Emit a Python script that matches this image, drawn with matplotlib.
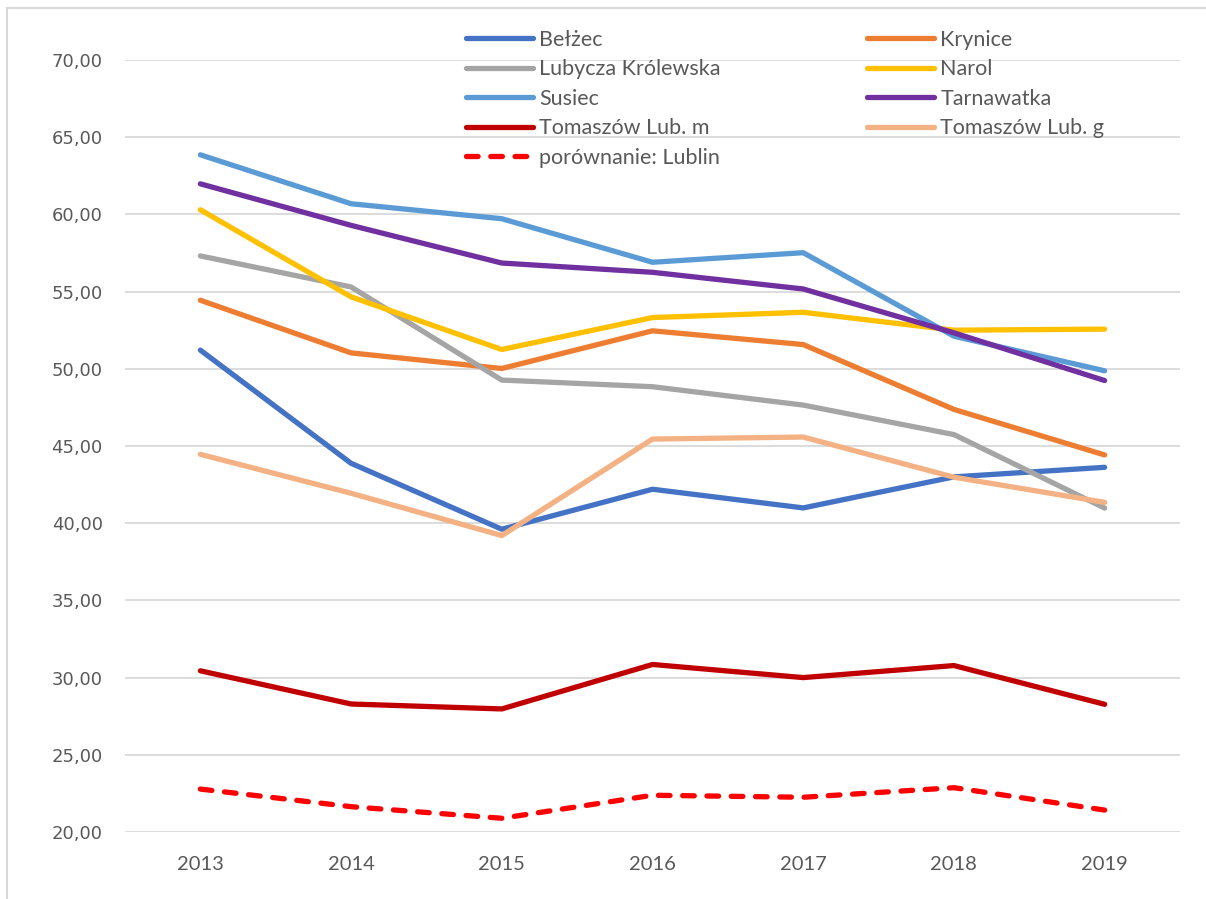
import matplotlib.pyplot as plt
from matplotlib.lines import Line2D
import numpy as np

# data
years = ['2013', '2014', '2015', '2016', '2017', '2018', '2019']

belzec = [51.21, 43.88, 39.61, 42.20, 40.99, 43.00, 43.62]
krynice = [54.44, 51.03, 50.02, 52.46, 51.57, 47.37, 44.42]
lubycza = [57.31, 55.30, 49.27, 48.84, 47.65, 45.74, 40.98]
narol = [60.30, 54.66, 51.25, 53.32, 53.66, 52.50, 52.57]
susiec = [63.86, 60.69, 59.72, 56.90, 57.52, 52.11, 49.87]
tarnawatka = [61.98, 59.29, 56.85, 56.25, 55.17, 52.33, 49.24]
tomaszow_m = [30.44, 28.29, 27.97, 30.85, 30.00, 30.78, 28.27]
tomaszow_g = [44.46, 41.94, 39.20, 45.45, 45.58, 42.98, 41.35]
lublin = [22.78, 21.64, 20.89, 22.38, 22.25, 22.87, 21.42]

series = [
    ('Bełżec', belzec, '#4472C4'),
    ('Krynice', krynice, '#ED7D31'),
    ('Lubycza Królewska', lubycza, '#A5A5A5'),
    ('Narol', narol, '#FFC000'),
    ('Susiec', susiec, '#5B9BD5'),
    ('Tarnawatka', tarnawatka, '#7030A0'),
    ('Tomaszów Lub. m', tomaszow_m, '#C00000'),
    ('Tomaszów Lub. g', tomaszow_g, '#F4B183'),
]

narrow = ['Lato', 'DejaVu Sans']
txt_color = '#595959'
lw = 3.8

fig = plt.figure(figsize=(12.06, 8.99), dpi=100)
ax = fig.add_axes([125 / 1206, 1 - 832 / 899, 1055 / 1206, 772 / 899])

x = np.arange(len(years))
handles = {}
for name, vals, col in series:
    h, = ax.plot(x, vals, color=col, lw=lw, solid_capstyle='round',
                 solid_joinstyle='round', label=name, zorder=3)
    handles[name] = h
h, = ax.plot(x, lublin, color='#FF0000', lw=lw, linestyle=(0, (2.2, 2.4)),
             dash_capstyle='round', label='porównanie: Lublin', zorder=3)
handles['porównanie: Lublin'] = h

ax.set_xlim(-0.5, len(years) - 0.5)
ax.set_ylim(20, 70)
yt = np.arange(20, 71, 5)
ax.set_yticks(yt)
ax.set_yticklabels([f'{v:.2f}'.replace('.', ',') for v in yt],
                   family='DejaVu Sans', fontsize=13)
ax.set_xticks(x)
ax.set_xticklabels(years, family=narrow, fontsize=14.5)
ax.tick_params(axis='y', length=0, pad=16, labelcolor=txt_color)
ax.tick_params(axis='x', length=0, pad=17, labelcolor=txt_color)
ax.grid(axis='y', color='#D9D9D9', lw=1.3, zorder=0)
for s in ax.spines.values():
    s.set_visible(False)

# legend, filled column by column
order = ['Bełżec', 'Lubycza Królewska', 'Susiec', 'Tomaszów Lub. m',
         'porównanie: Lublin', 'Krynice', 'Narol', 'Tarnawatka', 'Tomaszów Lub. g']
leg = fig.legend([handles[k] for k in order], order, ncol=2,
                 loc='upper left', bbox_to_anchor=(466 / 1206, 1 - 30 / 899),
                 frameon=False, prop={'family': narrow, 'size': 15.5},
                 handlelength=3.1, handletextpad=0.3, labelspacing=0.44,
                 columnspacing=6.8, borderpad=0, borderaxespad=0)
for t in leg.get_texts():
    t.set_color(txt_color)

# outer chart border (left and top visible)
fig.add_artist(Line2D([7 / 1206, 7 / 1206], [0, 1 - 8 / 899], color='#D9D9D9', lw=1.5))
fig.add_artist(Line2D([7 / 1206, 1], [1 - 8 / 899, 1 - 8 / 899], color='#D9D9D9', lw=1.5))

fig.savefig('out.png', dpi=100)
